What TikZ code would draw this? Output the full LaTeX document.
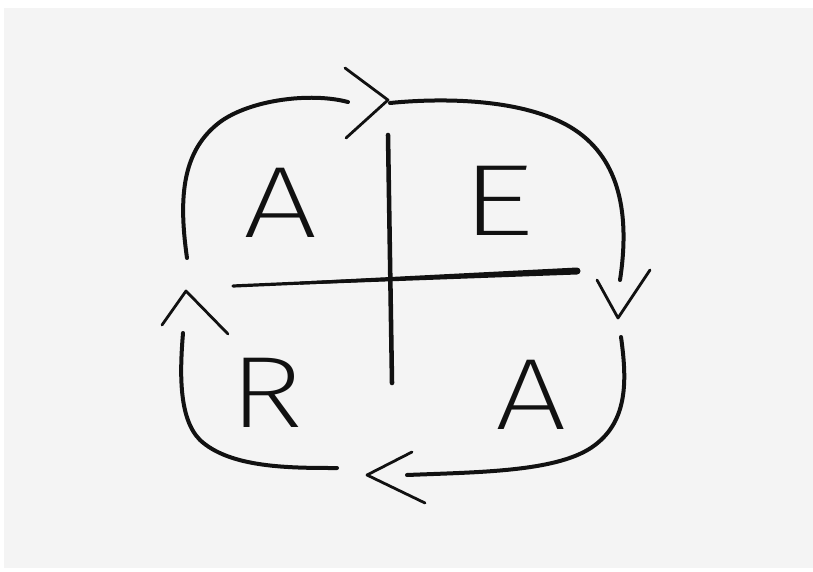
\documentclass[tikz,border=0pt]{standalone}
\usepackage{fontspec}
\newfontfamily\hand{Fira Sans}[UprightFont=* ExtraLight]
\definecolor{paper}{HTML}{F4F4F4}
\definecolor{ink}{HTML}{111111}
\tikzset{
  stroke/.style={draw=ink, line width=3pt, line cap=round, line join=round},
  thinstroke/.style={draw=ink, line width=2.1pt, line cap=round, line join=round},
  letter/.style={inner sep=0pt, anchor=base, text=ink, font=\hand\fontsize{76}{76}\selectfont}
}
\begin{document}
\begin{tikzpicture}[x=0.75pt,y=-0.75pt]
\useasboundingbox (0,0) rectangle (813,571);
\fill[white] (0,0) rectangle (813,571);
\fill[paper] (4,8) rectangle (813,568);
% quadrant cross
\coordinate (hl) at (233,286);
\coordinate (hr) at (577,271);
\draw[stroke, line width=2.4pt] (hl) -- (hr);
\fill[ink] (300,281.6) -- (577,267.5) arc[start angle=-90,end angle=90,radius=3.5] -- (300,284.6) -- cycle;
\draw[stroke, line width=3.4pt] (388,135) -- (392,383);
% cycle arcs
\draw[stroke] (187,258) .. controls (178,195) and (183,150) .. (220,122) .. controls (250,100) and (310,92) .. (348,102);
\draw[stroke] (390,103) .. controls (450,97) and (530,100) .. (575,130) .. controls (620,160) and (630,215) .. (620,280);
\draw[stroke] (621,337) .. controls (627,380) and (628,420) .. (595,445) .. controls (560,472) and (480,472) .. (407,475);
\draw[stroke] (337,468) .. controls (290,468) and (230,468) .. (200,440) .. controls (178,418) and (180,370) .. (183,333);
% arrowheads
\draw[thinstroke] (345,68) -- (388,100) -- (346,138);
\draw[thinstroke] (597,280) -- (618,318) -- (650,270);
\draw[thinstroke] (412,452) -- (367,475) -- (425,503);
\draw[thinstroke] (162,325) -- (186,291) -- (228,334);
% letters
\node[letter, xscale=1.3] (a1) at (281,237) {A};
\node[letter, xscale=1.45] (e) at (498,235) {E};
\node[letter, xscale=1.25] (r) at (266,427) {R};
\node[letter, xscale=1.25] (a2) at (531,429) {A};
\end{tikzpicture}
\end{document}
